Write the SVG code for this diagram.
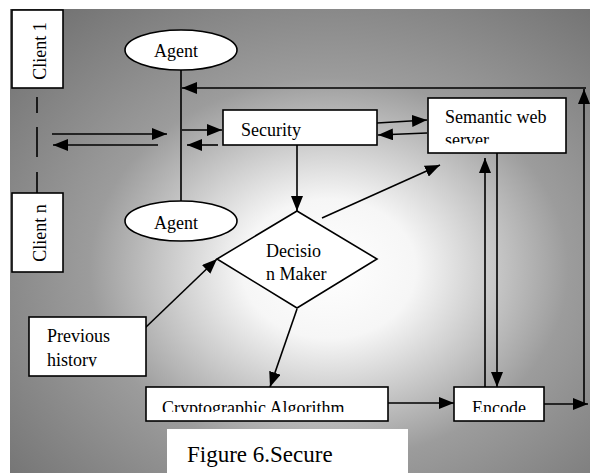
<svg xmlns="http://www.w3.org/2000/svg" width="590" height="473" viewBox="0 0 590 473">
<defs>
<radialGradient id="bg" cx="0.55" cy="0.56" r="0.75">
<stop offset="0" stop-color="#ffffff"/>
<stop offset="0.2" stop-color="#f6f6f6"/>
<stop offset="0.55" stop-color="#9c9c9c"/>
<stop offset="1" stop-color="#707070"/>
</radialGradient>
<marker id="ah" markerUnits="userSpaceOnUse" markerWidth="16" markerHeight="12" refX="15" refY="6" orient="auto">
<path d="M0,0 L15,6 L0,12 Z" fill="#000"/>
</marker>
<clipPath id="cServer"><rect x="420" y="90" width="150" height="53.5"/></clipPath>
<clipPath id="cHist"><rect x="20" y="310" width="130" height="56.5"/></clipPath>
<clipPath id="cLow"><rect x="140" y="380" width="410" height="32"/></clipPath>
</defs>
<style>
.box{fill:#fff;stroke:#000;stroke-width:1.6}
.t{font-family:"Liberation Serif","Times New Roman",serif;font-size:18px;fill:#000}
.ln{fill:none;stroke:#000;stroke-width:1.6}
.ar{fill:none;stroke:#000;stroke-width:1.6;marker-end:url(#ah)}
</style>
<rect x="10" y="9" width="580" height="464" fill="url(#bg)"/>

<g id="connectors">
<path class="ln" d="M37,97 V113 M37,127 V157 M37,172 V193"/>
<path class="ar" d="M52,134 H167"/>
<path class="ar" d="M158,145 H53"/>
<path class="ln" d="M181,70 V201"/>
<path class="ar" d="M586,88 H182"/>
<path class="ar" d="M584,404 V89"/>
<path class="ar" d="M544,404 H588"/>
<path class="ar" d="M182,130 H222"/>
<path class="ar" d="M218,145 H187"/>
<path class="ar" d="M377,123 L427,120"/>
<path class="ar" d="M427,133 L378,135"/>
<path class="ar" d="M297,145 V211"/>
<path class="ar" d="M322,218 L440,165"/>
<path class="ar" d="M145,328 L217,259"/>
<path class="ar" d="M297,309 L270,387"/>
<path class="ar" d="M388,403 H454"/>
<path class="ar" d="M485,387 V158"/>
<path class="ar" d="M497,153 V387"/>
</g>

<g id="client1">
<rect class="box" x="12" y="10" width="51" height="78"/>
<text class="t" text-anchor="middle" transform="translate(46,51) rotate(-90)">Client 1</text>
</g>
<g id="clientn">
<rect class="box" x="12" y="193" width="51" height="79"/>
<text class="t" text-anchor="middle" transform="translate(46,233) rotate(-90)">Client n</text>
</g>
<g id="agent-top">
<ellipse class="box" cx="181" cy="50" rx="56" ry="20"/>
<text class="t" x="176" y="57" text-anchor="middle">Agent</text>
</g>
<g id="agent-bottom">
<ellipse class="box" cx="181" cy="221" rx="56" ry="20"/>
<text class="t" x="176" y="229" text-anchor="middle">Agent</text>
</g>
<g id="security">
<rect class="box" x="223" y="110" width="154" height="35"/>
<text class="t" x="241" y="136">Security</text>
</g>
<g id="semantic">
<rect class="box" x="428" y="98" width="138" height="55"/>
<text class="t" x="445" y="123">Semantic web</text>
<text class="t" x="445" y="146" clip-path="url(#cServer)">server</text>
</g>
<g id="decision">
<path class="box" d="M297,211 L377,259 L297,308 L217,259 Z"/>
<text class="t" x="266" y="257">Decisio</text>
<text class="t" x="266" y="280">n Maker</text>
</g>
<g id="previous">
<rect class="box" x="29" y="317" width="117" height="59"/>
<text class="t" x="47" y="342">Previous</text>
<text class="t" x="47" y="366" clip-path="url(#cHist)">history</text>
</g>
<g id="crypto">
<rect class="box" x="146" y="387" width="242" height="34"/>
<text class="t" x="162" y="414" clip-path="url(#cLow)">Cryptographic Algorithm</text>
</g>
<g id="encode">
<rect class="box" x="454" y="387" width="90" height="34"/>
<text class="t" x="472" y="414" clip-path="url(#cLow)">Encode</text>
</g>
<g id="caption">
<rect x="167" y="429" width="241" height="44" fill="#fff"/>
<text x="187" y="462" font-family="Liberation Serif, Times New Roman, serif" font-size="23" fill="#000">Figure 6.Secure</text>
</g>
</svg>
